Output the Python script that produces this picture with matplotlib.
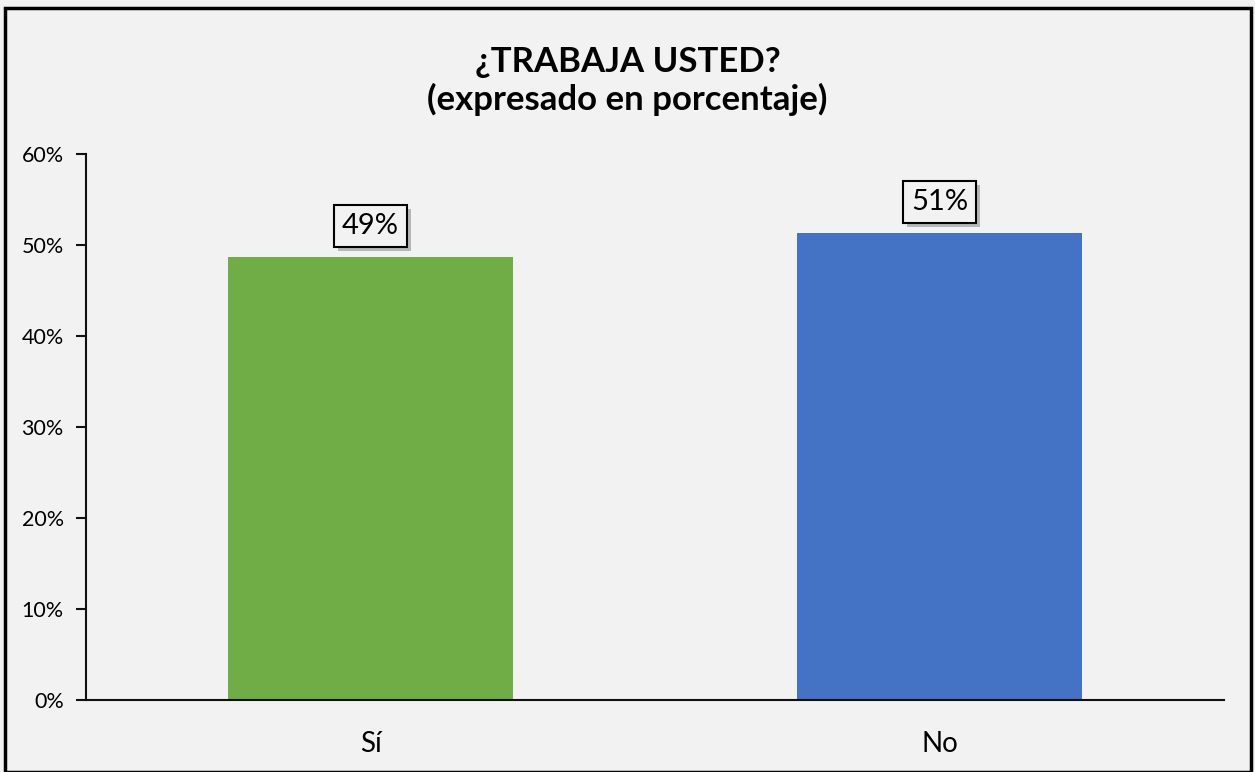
import matplotlib

matplotlib.use("Agg")
import matplotlib.pyplot as plt
import matplotlib.patheffects as pe
from matplotlib.patches import Rectangle
from matplotlib.ticker import FuncFormatter, MultipleLocator

categories = ["Sí", "No"]
values = [48.7, 51.3]
labels = ["49%", "51%"]
colors = ["#70AD47", "#4472C4"]
title = "¿TRABAJA USTED?\n(expresado en porcentaje)"

plt.rcParams["font.family"] = ["Lato", "DejaVu Sans"]

W, H = 1255, 772
fig = plt.figure(figsize=(W / 100, H / 100), dpi=100, facecolor="#F2F2F2")
ax = fig.add_axes([86 / W, 1 - 700 / H, (1224 - 86) / W, (700 - 154) / H])
ax.set_facecolor("#F2F2F2")

x = range(len(categories))
ax.bar(x, values, width=0.5, color=colors)
ax.set_xlim(-0.5, len(categories) - 0.5)
ax.set_ylim(0, 60)
ax.yaxis.set_major_locator(MultipleLocator(10))
ax.yaxis.set_major_formatter(FuncFormatter(lambda v, _: f"{v:.0f}%"))

for s in ["top", "right"]:
    ax.spines[s].set_visible(False)
for s in ["left", "bottom"]:
    ax.spines[s].set_linewidth(1.5)
    ax.spines[s].set_color("#111111")

ax.tick_params(axis="y", length=7, width=1.5, labelsize=15.5, pad=9, color="#111111")
ax.tick_params(axis="x", length=0, labelsize=20, pad=22)
ax.set_xticks(list(x))
ax.set_xticklabels(categories)

for xi, v, lab in zip(x, values, labels):
    t = ax.annotate(lab, (xi, v), xytext=(0, 13), textcoords="offset points",
                    ha="center", va="bottom", fontsize=21,
                    bbox=dict(boxstyle="square,pad=0.28", fc="#F2F2F2",
                              ec="black", lw=1.5))
    t.get_bbox_patch().set_path_effects(
        [pe.SimplePatchShadow(offset=(3, -3), alpha=0.35), pe.Normal()])

fig.text(0.5, 1 - 81 / H, title, ha="center", va="center", fontsize=25,
         fontweight="bold", linespacing=1.2)

fig.patches.append(Rectangle((5 / W, 0), (1251 - 5) / W, (H - 8) / H,
                             transform=fig.transFigure, fill=False,
                             ec="black", lw=2.5))

fig.savefig("out.png", dpi=100, facecolor=fig.get_facecolor())
